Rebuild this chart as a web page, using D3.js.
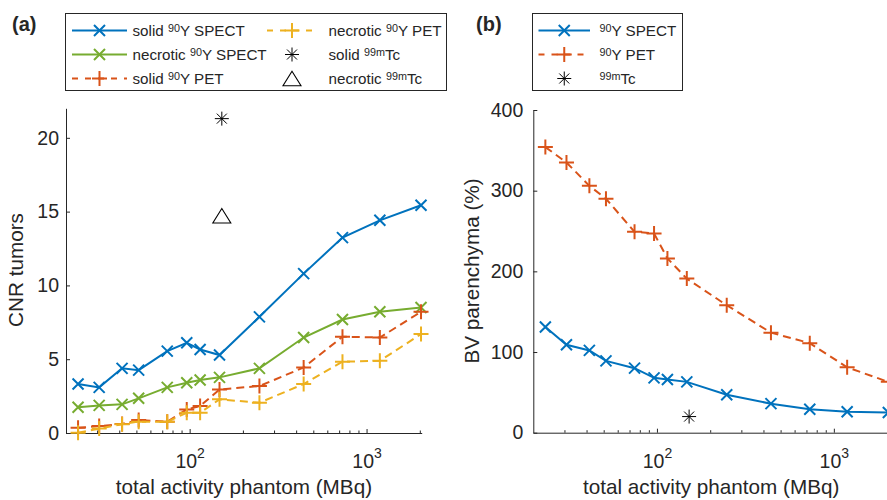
<!DOCTYPE html>
<html>
<head>
<meta charset="utf-8">
<script src="https://cdn.jsdelivr.net/npm/d3@7"></script>
<style>
  html, body { margin: 0; padding: 0; background: #fff; }
  svg { display: block; font-family: "Liberation Sans", Arial, Helvetica, sans-serif; }
  text { fill: #262626; }
</style>
</head>
<body>
<svg id="chart" width="887" height="500"></svg>
<script>
// activities (MBq) shared by every series
const activity = [23.4, 30.8, 41.5, 51.5, 74.7, 96.3, 114.6, 147.5, 248, 441, 731, 1189, 2032];

// panel (a): CNR tumors
const solidSpect    = [3.32, 3.09, 4.38, 4.26, 5.55, 6.11, 5.66, 5.28, 7.87, 10.8, 13.24, 14.41, 15.43];
const necroticSpect = [1.74, 1.87, 1.94, 2.35, 3.09, 3.40, 3.59, 3.77, 4.38, 6.47, 7.69, 8.21, 8.5];
const solidPet      = [0.35, 0.47, 0.61, 0.88, 0.77, 1.6, 1.83, 2.95, 3.18, 4.44, 6.52, 6.47, 8.21];
const necroticPet   = [0.02, 0.3, 0.6, 0.77, 0.77, 1.37, 1.37, 2.28, 2.05, 3.32, 4.83, 4.89, 6.7];
const tcActivity = 152;
const tcSolid = 21.3;
const tcNecrotic = 14.72;

// panel (b): BV parenchyma (%)
const bvSpect = [131, 109, 102, 89, 80, 68, 66, 63, 47, 36, 29, 26, 25];
const bvPet   = [354, 335, 306, 290, 249, 247, 216, 191, 158, 124, 111, 81, 63];
const bvTc = 20;

const yTicksA = [0, 5, 10, 15, 20];
const yTicksB = [0, 100, 200, 300, 400];
const xMajor = [100, 1000];
const xMinor = [30, 40, 50, 60, 70, 80, 90, 200, 300, 400, 500, 600, 700, 800, 900, 2000];

const C = { blue: '#0072BD', red: '#D95319', yellow: '#EDB120', green: '#77AC30', axis: '#262626' };
const DASH = '8,5';

const svg = d3.select('#chart');

function drawMarker(g, type, cx, cy, color) {
  const m = g.append('g').attr('transform', `translate(${cx},${cy})`)
    .attr('stroke', color).attr('fill', 'none');
  if (type === 'x') {
    m.attr('stroke-width', 2);
    m.append('path').attr('d', 'M-5.5,-5.5L5.5,5.5M-5.5,5.5L5.5,-5.5');
  } else if (type === 'plus') {
    m.attr('stroke-width', 2);
    m.append('path').attr('d', 'M-7.5,0L7.5,0M0,-7.5L0,7.5');
  } else if (type === 'star') {
    m.attr('stroke-width', 1);
    m.append('path').attr('d', 'M-7,0L7,0M0,-7L0,7M-5,-5L5,5M-5,5L5,-5');
  } else if (type === 'tri') {
    m.attr('stroke-width', 1.1);
    m.append('path').attr('d', 'M0,-7.2L9,7.2L-9,7.2Z');
  }
}

function panel(opts) {
  const x = d3.scaleLog().domain([20, 2050]).range([opts.left, opts.left + 355.7]);
  const y = d3.scaleLinear().domain(opts.yDomain).range([opts.bottom, opts.top]);
  const g = svg.append('g');

  // y axis, ticks pointing inward
  const ya = g.append('g').attr('transform', `translate(${opts.left},0)`)
    .call(d3.axisLeft(y).tickValues(opts.yTicks).tickSize(-4).tickSizeOuter(0).tickPadding(opts.yPad));
  ya.selectAll('text').attr('font-size', 19.5).attr('fill', C.axis).attr('font-family', null);

  // x axis major ticks
  const xa = g.append('g').attr('transform', `translate(0,${opts.bottom})`)
    .call(d3.axisBottom(x).tickValues(xMajor).tickSize(-4).tickSizeOuter(0).tickFormat(() => ''));
  xa.selectAll('.tick text').remove();
  xa.selectAll('.tick').each(function (d) {
    const t = d3.select(this).append('text')
      .attr('text-anchor', 'middle').attr('y', 468 - opts.bottom)
      .attr('font-size', 19.5).attr('x', 0).attr('stroke', 'none');
    t.append('tspan').text('10');
    t.append('tspan').attr('font-size', 14).attr('dy', -10).text(Math.round(Math.log10(d)));
  });
  // minor ticks
  const xm = g.append('g').attr('transform', `translate(0,${opts.bottom})`)
    .call(d3.axisBottom(x).tickValues(xMinor).tickSize(-2.5).tickFormat(() => ''));
  xm.select('.domain').remove();

  g.selectAll('.domain, .tick line').attr('stroke', C.axis).attr('stroke-width', 1);

  // axis labels
  g.append('text').attr('x', (opts.left + opts.left + 355.7) / 2).attr('y', 494)
    .attr('text-anchor', 'middle').attr('font-size', 20.7).text('total activity phantom (MBq)');
  g.append('text').attr('transform', `translate(${opts.yLabelX},${opts.yLabelY}) rotate(-90)`)
    .attr('text-anchor', 'middle').attr('font-size', 20.7).text(opts.yLabel);

  return { g, x, y };
}

function series(p, values, color, dash, marker) {
  const pts = activity.map((a, i) => [a, values[i]]);
  const line = d3.line().x(d => p.x(d[0])).y(d => p.y(d[1]));
  p.g.append('path').datum(pts).attr('d', line).attr('fill', 'none')
    .attr('stroke', color).attr('stroke-width', 2)
    .attr('stroke-dasharray', dash || null);
  pts.forEach(d => drawMarker(p.g, marker, p.x(d[0]), p.y(d[1]), color));
}

function legendLabel(g, x, y, parts) {
  const t = g.append('text').attr('x', x).attr('y', y).attr('font-size', 15.2);
  let raised = false;
  parts.forEach(pt => {
    if (pt.sup) {
      t.append('tspan').attr('font-size', 10.8).attr('dy', -4.5).text(pt.sup);
      raised = true;
    } else {
      const s = t.append('tspan').text(pt.t);
      if (raised) { s.attr('dy', 4.5); raised = false; }
    }
  });
}

function legendSample(g, x0, x1, y, color, dash, marker) {
  if (marker !== 'star' && marker !== 'tri') {
    g.append('line').attr('x1', x0).attr('x2', x1).attr('y1', y).attr('y2', y)
      .attr('stroke', color).attr('stroke-width', 2).attr('stroke-dasharray', dash || null);
  }
  drawMarker(g, marker, (x0 + x1) / 2, y, color);
}

// ---- panel (a)
const pa = panel({ left: 66, top: 108.3, bottom: 433, yDomain: [0, 22], yTicks: yTicksA, yPad: 7,
  yLabel: 'CNR tumors', yLabelX: 23, yLabelY: 270 });
series(pa, solidSpect, C.blue, null, 'x');
series(pa, necroticSpect, C.green, null, 'x');
series(pa, solidPet, C.red, DASH, 'plus');
series(pa, necroticPet, C.yellow, DASH, 'plus');
drawMarker(pa.g, 'star', pa.x(tcActivity), pa.y(tcSolid), '#000');
drawMarker(pa.g, 'tri', pa.x(tcActivity), pa.y(tcNecrotic), '#000');

// ---- panel (b)
const pb = panel({ left: 533.3, top: 110, bottom: 432.7, yDomain: [0, 400], yTicks: yTicksB, yPad: 10,
  yLabel: 'BV parenchyma (%)', yLabelX: 479, yLabelY: 271 });
series(pb, bvSpect, C.blue, null, 'x');
series(pb, bvPet, C.red, DASH, 'plus');
drawMarker(pb.g, 'star', pb.x(tcActivity), pb.y(bvTc), '#000');

// ---- panel letters
svg.append('text').attr('x', 12).attr('y', 31).attr('font-size', 20).attr('font-weight', 'bold').text('(a)');
svg.append('text').attr('x', 476).attr('y', 31).attr('font-size', 20).attr('font-weight', 'bold').text('(b)');

// ---- legend (a)
const la = svg.append('g');
la.append('rect').attr('x', 65.5).attr('y', 13.5).attr('width', 381).attr('height', 77)
  .attr('fill', '#fff').attr('stroke', C.axis).attr('stroke-width', 1);
const rowY = [30.5, 54.5, 78.5];
const legA = [
  { col: 0, row: 0, color: C.blue, dash: null, marker: 'x', parts: [{ t: 'solid ' }, { sup: '90' }, { t: 'Y SPECT' }] },
  { col: 0, row: 1, color: C.green, dash: null, marker: 'x', parts: [{ t: 'necrotic ' }, { sup: '90' }, { t: 'Y SPECT' }] },
  { col: 0, row: 2, color: C.red, dash: '6,7', marker: 'plus', parts: [{ t: 'solid ' }, { sup: '90' }, { t: 'Y PET' }] },
  { col: 1, row: 0, color: C.yellow, dash: '6,7', marker: 'plus', parts: [{ t: 'necrotic ' }, { sup: '90' }, { t: 'Y PET' }] },
  { col: 1, row: 1, color: '#000', marker: 'star', parts: [{ t: 'solid ' }, { sup: '99m' }, { t: 'Tc' }] },
  { col: 1, row: 2, color: '#000', marker: 'tri', parts: [{ t: 'necrotic ' }, { sup: '99m' }, { t: 'Tc' }] }
];
const colA = [{ x0: 72, x1: 127, tx: 132.5 }, { x0: 267, x1: 317, tx: 328.5 }];
legA.forEach(e => {
  const c = colA[e.col];
  legendSample(la, c.x0, c.x1, rowY[e.row], e.color, e.dash, e.marker);
  legendLabel(la, c.tx, rowY[e.row] + 5.5, e.parts);
});

// ---- legend (b)
const lb = svg.append('g');
lb.append('rect').attr('x', 532.5).attr('y', 13.5).attr('width', 150).attr('height', 77)
  .attr('fill', '#fff').attr('stroke', C.axis).attr('stroke-width', 1);
const legB = [
  { color: C.blue, dash: null, marker: 'x', parts: [{ sup: '90' }, { t: 'Y SPECT' }] },
  { color: C.red, dash: '6,7', marker: 'plus', parts: [{ sup: '90' }, { t: 'Y PET' }] },
  { color: '#000', marker: 'star', parts: [{ sup: '99m' }, { t: 'Tc' }] }
];
legB.forEach((e, i) => {
  legendSample(lb, 538.5, 590, rowY[i], e.color, e.dash, e.marker);
  legendLabel(lb, 599.5, rowY[i] + 5.5, e.parts);
});
</script>
</body>
</html>
